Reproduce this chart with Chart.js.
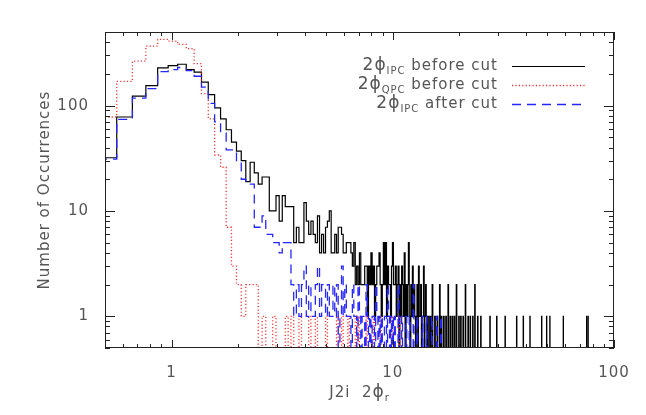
<!DOCTYPE html>
<html lang="en">
<head>
<meta charset="UTF-8">
<title>J2i 2phi_r histogram</title>
<style>
  body { margin: 0; background: #fff; }
  #wrap { width: 646px; height: 415px; }
</style>
</head>
<body>
<div id="wrap"><canvas id="chart" width="646" height="415"></canvas></div>
<script src="https://cdn.jsdelivr.net/npm/chart.js"></script>
<script>
// histogram bins of width 0.1, first lower edge at 0.465
const binStart = 0.465;
const binWidth = 0.1;

// counts per bin from the first bin on
const ipcBeforeCounts = [
  32, 78, 123, 155, 228, 240, 247, 220, 208, 167, 127, 95, 75, 59, 45, 37, 30, 19, 29, 23,
  18, 21, 21, 10, 10, 14, 8, 14, 11, 11, 11, 5, 7, 5, 5, 12, 8, 6, 8, 6,
  5, 9, 4, 6, 4, 7, 8, 10, 4, 4, 6, 4, 7, 7, 6, 4, 4, 5, 5, 5,
  4, 3, 5, 2, 3, 2, 4, 2, 2, 2, 3, 3, 1, 3, 2, 4, 2, 3, 1, 2,
  3, 3, 4, 2, 1, 2, 5, 2, 5, 1, 3, 2, 2, 1, 3, 5, 2, 2, 3, 1,
  2, 3, 0, 2, 1, 3, 2, 1, 4, 0, 2, 1, 2, 5, 1, 0, 2, 1, 3, 1,
  2, 1, 0, 1, 2, 0, 3, 1, 1, 2, 0, 1, 1, 3, 0, 1, 2, 1, 0, 1, 1
];
const qpcBeforeCounts = [
  78, 170, 264, 367, 425, 410, 381, 347, 250, 130, 75, 34, 26, 7, 3, 2, 1, 2, 2, 2,
  0, 1, 0, 0, 1, 0, 0, 0, 1, 0, 1, 0, 0, 1, 0, 0, 0, 1, 0, 0,
  1, 0, 0, 0, 0, 1
];
const ipcAfterCounts = [
  31, 74, 118, 145, 210, 220, 230, 215, 190, 150, 105, 70, 55, 38, 38, 30, 20, 18, 18, 7,
  7, 9, 6, 6, 5, 5, 4, 5, 5, 5, 2, 1, 2, 1, 2, 3, 1, 2, 1, 1,
  2, 3, 1, 2, 2, 1, 2, 1, 1, 2, 1, 2, 0, 1, 3, 1, 2, 1, 1, 1,
  0, 2, 1, 1, 0, 2, 1, 0, 1, 1, 0, 2, 1, 0, 1, 0, 1, 1, 0, 2,
  1, 0, 1, 0, 1, 0, 0, 1, 1, 0, 2, 1, 0, 1, 0, 1
];
// sparse bins further out: [lower edge, count]
const ipcBeforeTail = [
  [14.8, 1], [15.1, 2], [15.5, 1], [15.9, 1], [16.3, 2], [16.6, 1], [17.0, 1], [17.4, 1],
  [17.8, 2], [18.2, 1], [18.6, 1], [19.0, 1], [19.4, 2], [19.9, 1], [20.3, 1], [20.8, 1],
  [21.3, 2], [21.9, 1], [22.4, 1], [23.0, 1], [23.5, 2], [24.2, 1], [25.0, 1], [27.5, 1],
  [29.5, 1], [32.2, 1], [36.3, 1], [38.9, 1], [41.7, 1], [47.1, 1], [49.6, 1], [51.3, 1],
  [59.0, 1], [75.2, 1], [76.4, 1]
];
const qpcBeforeTail = [
  [5.6, 1], [5.9, 1], [6.3, 1], [6.8, 1], [7.0, 1], [7.6, 1], [8.2, 1], [8.8, 1], [9.9, 1], [10.7, 1]
];
const ipcAfterTail = [
  [10.2, 1], [10.6, 2], [11.0, 1], [11.5, 1], [11.9, 1], [12.4, 2], [12.9, 1], [13.6, 1],
  [14.2, 1], [15.0, 1], [15.8, 1], [16.5, 1]
];

const xTickValues = [0.5, 0.6, 0.7, 0.8, 0.9, 1, 2, 3, 4, 5, 6, 7, 8, 9, 10,
  20, 30, 40, 50, 60, 70, 80, 90, 100];
const yTickValues = [0.5, 0.6, 0.7, 0.8, 0.9, 1, 2, 3, 4, 5, 6, 7, 8, 9, 10,
  20, 30, 40, 50, 60, 70, 80, 90, 100, 200, 300, 400, 500];
const majorTicks = [1, 10, 100];

const legendLabels = [
  ['2\u03d5', 'IPC', ' before cut'],
  ['2\u03d5', 'QPC', ' before cut'],
  ['2\u03d5', 'IPC', ' after cut']
];

const FONT = '"DejaVu Sans", sans-serif';
const TEXT = '#555';

function buildSteps(counts, tail) {
  const all = counts.slice();
  tail.forEach(([x, c]) => { all[Math.round((x - binStart) / binWidth)] = c; });
  const pts = [];
  for (let k = 0; k < all.length; k++) {
    const c = all[k] || 0;
    pts.push({ x: binStart + k * binWidth, y: c > 0 ? c : 0.05 });
  }
  pts.push({ x: binStart + all.length * binWidth, y: 0.05 });
  return pts;
}

const series = [
  { data: buildSteps(ipcBeforeCounts, ipcBeforeTail), color: '#000000', dash: [], width: 1.2, order: 3 },
  { data: buildSteps(qpcBeforeCounts, qpcBeforeTail), color: '#ff3030', dash: [1.2, 2.2], width: 1.3, order: 2 },
  { data: buildSteps(ipcAfterCounts, ipcAfterTail), color: '#2626ff', dash: [9, 6], width: 1.3, order: 1 }
];

// wider letter spacing for all texts, like the original
const spacing = {
  id: 'spacing',
  beforeDraw(chart) { chart.ctx.letterSpacing = '1px'; }
};

// closed frame with inward ticks on all four sides
const frameTicks = {
  id: 'frameTicks',
  afterDatasetsDraw(chart) {
    const { ctx, chartArea: a, scales } = chart;
    ctx.save();
    ctx.strokeStyle = '#222';
    ctx.lineWidth = 1;
    ctx.strokeRect(a.left + 0.5, a.top + 0.5, a.right - a.left - 1, a.bottom - a.top - 1);
    ctx.beginPath();
    scales.x.ticks.forEach(t => {
      const px = Math.round(scales.x.getPixelForValue(t.value)) + 0.5;
      const len = t.major ? 8 : 4;
      ctx.moveTo(px, a.bottom); ctx.lineTo(px, a.bottom - len);
      ctx.moveTo(px, a.top); ctx.lineTo(px, a.top + len);
    });
    scales.y.ticks.forEach(t => {
      const py = Math.round(scales.y.getPixelForValue(t.value)) + 0.5;
      const len = t.major ? 10 : 5;
      ctx.moveTo(a.left, py); ctx.lineTo(a.left + len, py);
      ctx.moveTo(a.right, py); ctx.lineTo(a.right - len, py);
    });
    ctx.stroke();
    ctx.restore();
  }
};

// legend with subscripts, right aligned text and line samples
const subLegend = {
  id: 'subLegend',
  afterDraw(chart) {
    const ctx = chart.ctx;
    const textRight = 498, lineL = 512, lineR = 585;
    const rows = [66, 85, 104];
    ctx.save();
    ctx.letterSpacing = '1px';
    ctx.textBaseline = 'middle';
    legendLabels.forEach((parts, i) => {
      const y = rows[i];
      const mainFont = '15px ' + FONT, phiFont = '17px ' + FONT, subFont = '10px ' + FONT;
      ctx.font = mainFont; const w3 = ctx.measureText(parts[2]).width;
      ctx.font = subFont; const w2 = ctx.measureText(parts[1]).width;
      ctx.font = phiFont; const w1 = ctx.measureText(parts[0]).width;
      let x = textRight - w3 - w2 - w1;
      ctx.fillStyle = TEXT;
      ctx.textAlign = 'left';
      ctx.font = phiFont; ctx.fillText(parts[0], x, y); x += w1;
      ctx.font = subFont; ctx.fillText(parts[1], x, y + 5); x += w2;
      ctx.font = mainFont; ctx.fillText(parts[2], x, y);
      const s = series[i];
      ctx.strokeStyle = s.color;
      ctx.lineWidth = s.width;
      ctx.setLineDash(s.dash);
      ctx.beginPath();
      ctx.moveTo(lineL, y + 0.5); ctx.lineTo(lineR, y + 0.5);
      ctx.stroke();
      ctx.setLineDash([]);
    });
    // x axis title with subscript r
    const a = chart.chartArea;
    const cx = (a.left + a.right) / 2, ty = 393;
    ctx.font = '15px ' + FONT; const tA = 'J2i  2'; const wA = ctx.measureText(tA).width;
    ctx.font = '17px ' + FONT; const wB = ctx.measureText('\u03d5').width;
    ctx.font = '10px ' + FONT; const wC = ctx.measureText('r').width;
    let x = cx - (wA + wB + wC) / 2;
    ctx.font = '15px ' + FONT; ctx.fillText(tA, x, ty); x += wA;
    ctx.font = '17px ' + FONT; ctx.fillText('\u03d5', x, ty); x += wB;
    ctx.font = '10px ' + FONT; ctx.fillText('r', x, ty + 5);
    ctx.restore();
  }
};

new Chart(document.getElementById('chart'), {
  type: 'line',
  data: {
    datasets: series.map((s, i) => ({
      label: legendLabels[i].join(''),
      data: s.data,
      borderColor: s.color,
      borderWidth: s.width,
      borderDash: s.dash,
      stepped: 'before',
      pointRadius: 0,
      fill: false,
      clip: 0,
      order: s.order
    }))
  },
  options: {
    responsive: false,
    animation: false,
    devicePixelRatio: 1,
    layout: { padding: { left: 0, right: 32, top: 32, bottom: 0 } },
    plugins: { legend: { display: false }, tooltip: { enabled: false } },
    scales: {
      x: {
        type: 'logarithmic',
        min: 0.5, max: 100,
        afterBuildTicks: scale => {
          scale.ticks = xTickValues.map(v => ({ value: v, major: majorTicks.includes(v) }));
        },
        afterFit: scale => { scale.height = 67; },
        grid: { display: false },
        border: { display: false },
        ticks: {
          autoSkip: false, maxRotation: 0, padding: 8,
          color: TEXT, font: { family: FONT, size: 15 },
          callback: v => majorTicks.includes(v) ? String(v) : ''
        }
      },
      y: {
        type: 'logarithmic',
        min: 0.5, max: 500,
        afterBuildTicks: scale => {
          scale.ticks = yTickValues.map(v => ({ value: v, major: majorTicks.includes(v) }));
        },
        afterFit: scale => { scale.width = 105; },
        grid: { display: false },
        border: { display: false },
        title: {
          display: true, text: 'Number of Occurrences', color: TEXT,
          font: { family: FONT, size: 15 }, padding: { top: 36, bottom: 0 }
        },
        ticks: {
          autoSkip: false, padding: 8,
          color: TEXT, font: { family: FONT, size: 15 },
          callback: v => majorTicks.includes(v) ? String(v) : ''
        }
      }
    }
  },
  plugins: [spacing, frameTicks, subLegend]
});
</script>
</body>
</html>
